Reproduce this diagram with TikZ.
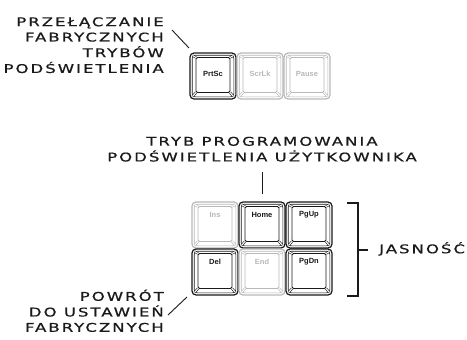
\documentclass[tikz,border=0pt]{standalone}
\usepackage{fontspec}
\setmainfont{DejaVu Sans}
\newfontfamily\labfont[LetterSpace=12, FakeBold=0.6]{DejaVu Sans}
\newfontfamily\keyfont{Liberation Sans}
\definecolor{keygray}{HTML}{B8B8B8}
\definecolor{ink}{HTML}{1A1A1A}
\newcommand\labtext[2]{\scalebox{1.38}[1]{\labfont\fontsize{12}{15.3}\selectfont\begin{tabular}{@{}#1@{}}#2\end{tabular}}}
\tikzset{
  lab/.style={text=ink, inner sep=0pt},
  conn/.style={draw=ink, line width=0.9pt},
  keybox/.style={rounded corners=4pt, line width=1.2pt, minimum width=46pt, minimum height=46pt, inner sep=0pt},
  keylab/.style={font=\keyfont\bfseries\fontsize{7.5}{8}\selectfont, inner sep=0pt},
}
\newcommand\kbkey[6]{%
  \begin{scope}[shift={(#2,#3)}]
    \node[keybox, draw=#4] (#1) at (23,23) {};
    \draw[#4, rounded corners=3pt, line width=0.6pt] (2.2,2.2) rectangle (43.8,43.8);
    \draw[#4, rounded corners=1.5pt, line width=0.9pt] (6,4.5) rectangle (40,39.5);
    \foreach \a/\b in {{(2.6,2.6)}/{(6,4.5)}, {(43.4,2.6)}/{(40,4.5)}, {(2.6,43.4)}/{(6,39.5)}, {(43.4,43.4)}/{(40,39.5)}}
      \draw[#4, line width=0.6pt, double=white, double distance=1.1pt] \a -- \b;
    \node[keylab, text=#4] (#1lab) at (23,#6) {#5};
  \end{scope}}
\begin{document}
\begin{tikzpicture}[x=1pt, y=-1pt]
\useasboundingbox (0,0) rectangle (467,340);
% top row
\kbkey{prtsc}{190}{53}{ink}{PrtSc}{21}
\kbkey{scrlk}{237}{53}{keygray}{ScrLk}{21}
\kbkey{pause}{284}{53}{keygray}{Pause}{21}
% bottom block
\kbkey{ins}{192}{202}{keygray}{Ins}{12.5}
\kbkey{home}{239}{202}{ink}{Home}{12.5}
\kbkey{pgup}{286}{202}{ink}{PgUp}{12.5}
\kbkey{del}{192}{249}{ink}{Del}{12.5}
\kbkey{end}{239}{249}{keygray}{End}{12.5}
\kbkey{pgdn}{286}{249}{ink}{PgDn}{12.5}
% labels
\node[lab, anchor=east] (tl) at (164,46.5) {\labtext{r}{PRZEŁĄCZANIE\\FABRYCZNYCH\\TRYBÓW\\PODŚWIETLENIA}};
\node[lab] (tm) at (262,150.5) {\labtext{c}{TRYB PROGRAMOWANIA\\PODŚWIETLENIA UŻYTKOWNIKA}};
\node[lab, anchor=east] (bl) at (164,313) {\labtext{r}{POWRÓT\\DO USTAWIEŃ\\FABRYCZNYCH}};
\node[lab, anchor=west] (js) at (379,250) {\labtext{l}{JASNOŚĆ}};
% connectors
\coordinate (tla) at (172,30);
\coordinate (tlb) at (189,48);
\draw[conn] (tla) -- (tlb);
\coordinate (tma) at (262,172);
\coordinate (tmb) at (262,194);
\draw[conn] (tma) -- (tmb);
\coordinate (bla) at (168,315);
\coordinate (blb) at (187,297);
\draw[conn] (bla) -- (blb);
\coordinate (br1) at (347,203);
\coordinate (br2) at (358,203);
\coordinate (br3) at (358,296);
\coordinate (br4) at (347,296);
\coordinate (brm) at (358,250);
\coordinate (brt) at (368,250);
\draw[conn, line width=1.1pt] (br1) -- (br2) -- (br3) -- (br4);
\draw[conn, line width=1.1pt] (brm) -- (brt);
\end{tikzpicture}
\end{document}
